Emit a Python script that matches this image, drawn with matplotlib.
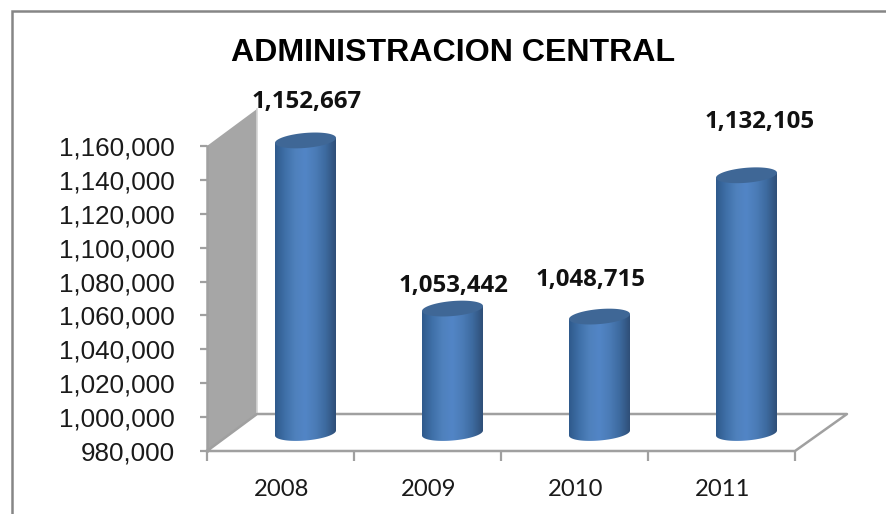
import numpy as np
import matplotlib
matplotlib.use("Agg")
import matplotlib.pyplot as plt
from matplotlib.patches import Polygon, Rectangle

years = ["2008", "2009", "2010", "2011"]
values = [1152667, 1053442, 1048715, 1132105]
value_labels = ["1,152,667", "1,053,442", "1,048,715", "1,132,105"]
ticks = [980000, 1000000, 1020000, 1040000, 1060000, 1080000, 1100000, 1120000, 1140000, 1160000]

W, H = 887, 514
# depth of the fake 3d box, in data units
ymin, ymax = 980000, 1160000
px_y = (ymax - ymin) / 305.0
px_x = 4 / 588.0
depth_x = 50 * px_x
depth_y = 37 * px_y

fig = plt.figure(figsize=(W / 100, H / 100), dpi=100)
ax = fig.add_axes([207 / W, 1 - 451 / H, 588 / W, 305 / H])
ax.set_xlim(0, 4)
ax.set_ylim(ymin, ymax)
for s in ax.spines.values():
    s.set_visible(False)
ax.patch.set_visible(False)

# outer frame
fig.add_artist(Rectangle((12 / W, -0.02), 900 / W, 1.0 - 11 / H + 0.02, transform=fig.transFigure,
                         fill=False, ec="#868686", lw=1.8))

grey = "#a6a6a6"
line = "#a0a0a0"

# side wall and floor
ax.add_patch(Polygon([(0, ymin), (0, ymax), (depth_x, ymax + depth_y), (depth_x, ymin + depth_y)],
                     closed=True, fc=grey, ec="none", clip_on=False, zorder=1))
ax.plot([depth_x, depth_x], [ymin + depth_y, ymax + depth_y], color="#d4d4d4", lw=1.2, clip_on=False, zorder=1)
floor_x = [0, 4, 4 + depth_x * 1.04, depth_x, 0]
floor_y = [ymin, ymin, ymin + depth_y, ymin + depth_y, ymin]
ax.plot(floor_x, floor_y, color=line, lw=1.8, clip_on=False, zorder=1)
ax.plot([0, 0], [ymin, ymax], color=line, lw=1.8, clip_on=False, zorder=1)

# cylinders
cmap = matplotlib.colors.LinearSegmentedColormap.from_list(
    "cyl", ["#2f5a8c", "#3f70a8", "#4f81bd", "#5285c6", "#4b7cb7", "#3d6a9f", "#2f4f78"])
grad = np.linspace(0, 1, 128).reshape(1, -1)
bar_w = 61 * px_x
off_x = 25 * px_x
off_y = 18 * px_y
ell_a = bar_w / 2
ell_b = 7.5 * px_y
tilt = 2.5 * px_y
t = np.linspace(0, 2 * np.pi, 90)

for i, v in enumerate(values):
    cx = i + 0.5 + off_x
    top = v + off_y
    bot = ymin + off_y
    tt = np.linspace(np.pi, 2 * np.pi, 45)
    # body outline: lower half of the base ellipse then up over the top
    low_x = cx + ell_a * np.cos(tt)
    low_y = bot + ell_b * np.sin(tt) + tilt * np.cos(tt)
    body = np.vstack([np.column_stack([low_x, low_y]),
                      [[cx + ell_a, top + tilt], [cx - ell_a, top - tilt]]])
    clip = Polygon(body, closed=True, transform=ax.transData, fc="none", ec="none", clip_on=False)
    ax.add_patch(clip)
    im = ax.imshow(grad, extent=[cx - ell_a, cx + ell_a, bot - 2 * ell_b, top + 2 * ell_b],
                   cmap=cmap, aspect="auto", zorder=3, interpolation="bilinear")
    im.set_clip_path(clip)
    im.set_clip_box(fig.bbox)  # 2008 cap goes past the axes top
    cap = np.column_stack([cx + ell_a * np.cos(t), top + ell_b * np.sin(t) + tilt * np.cos(t)])
    ax.add_patch(Polygon(cap, closed=True, fc="#3f6796", ec="none", zorder=4, clip_on=False))

ax.set_xlim(0, 4)
ax.set_ylim(ymin, ymax)

# axes ticks
ax.set_yticks(ticks)
ax.set_yticklabels([f"{k:,}" for k in ticks], fontfamily="Liberation Sans", fontsize=18.7, color="#1a1a1a")
ax.set_xticks(range(5))
ax.set_xticklabels([])
ax.tick_params(axis="y", length=5, width=1.6, color=line, pad=18)
ax.tick_params(axis="x", length=7, width=1.6, color=line)

for i, y in enumerate(years):
    ax.annotate(y, (i + 0.5, ymin), xytext=(1, -49), textcoords="offset pixels", ha="center", va="bottom",
                fontfamily="Lato", fontsize=17.2, color="#1a1a1a", annotation_clip=False)

# value labels sit at hand-placed heights in the source, so offset from the bar top
label_dx = [1, 1, -9, 13]
label_dy = [26, 11, 25, 41]
for i, v in enumerate(values):
    ax.annotate(value_labels[i], (i + 0.5 + off_x, v + off_y), xytext=(label_dx[i], label_dy[i]),
                textcoords="offset pixels", ha="center", va="bottom", fontfamily="Open Sans",
                fontweight="bold", fontsize=17.3, color="#111111", annotation_clip=False)

fig.text(453 / W, 1 - 53 / H, "ADMINISTRACION CENTRAL", ha="center", va="center",
         fontfamily="Liberation Sans", fontweight="bold", fontsize=23.1, color="black")

fig.savefig("out.png", dpi=100)
